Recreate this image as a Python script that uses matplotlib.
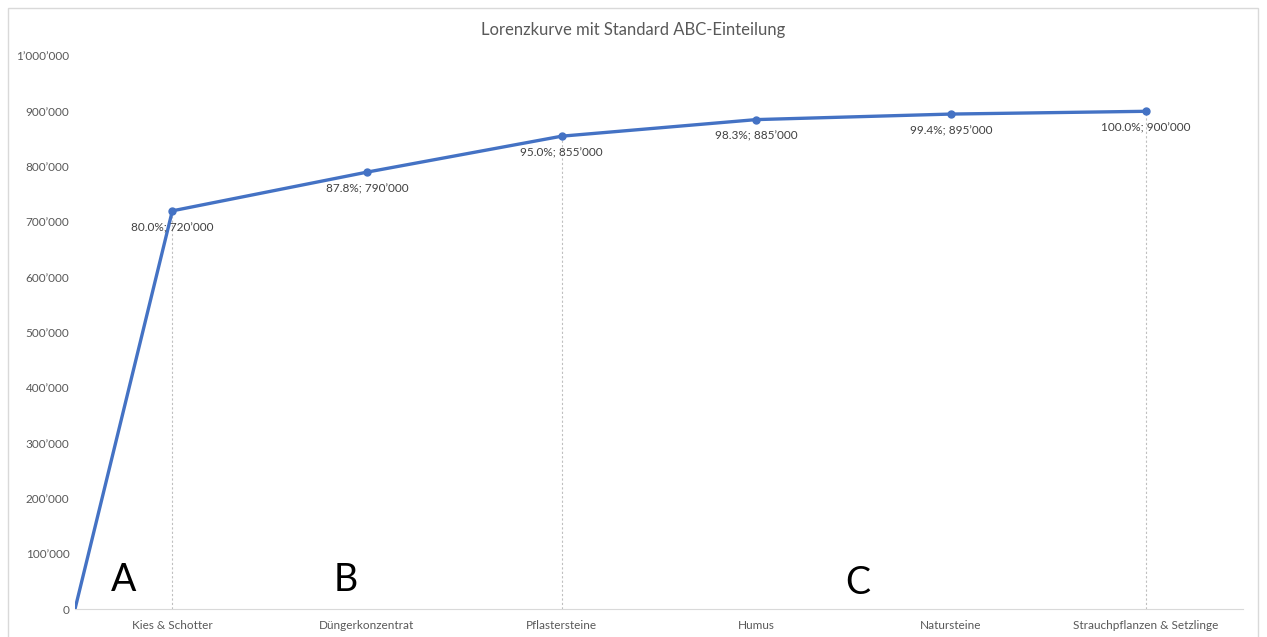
import matplotlib
matplotlib.use("Agg")
import matplotlib.pyplot as plt
from matplotlib.patches import Rectangle
from matplotlib.ticker import FuncFormatter

categories = ["Kies & Schotter", "Düngerkonzentrat", "Pflastersteine", "Humus",
              "Natursteine", "Strauchpflanzen & Setzlinge"]
cumulative = [720000, 790000, 855000, 885000, 895000, 900000]
percent = [80.0, 87.8, 95.0, 98.3, 99.4, 100.0]
drop_idx = [0, 2, 5]
zones = [("A", -0.25, 52000), ("B", 0.89, 52000), ("C", 3.52, 47000)]

plt.rcParams["font.family"] = ["Lato", "DejaVu Sans"]
grey = "#595959"
blue = "#4472C4"


def fmt(v, pos=None):
    return f"{int(v):,}".replace(",", "\u2019")


fig = plt.figure(figsize=(12.67, 6.37), dpi=100)
fig.patches.append(Rectangle((8 / 1267, -0.1), 1250 / 1267, 1.1 - 8 / 637,
                             transform=fig.transFigure, fill=False,
                             edgecolor="#D9D9D9", linewidth=1))
ax = fig.add_axes([75 / 1267, 1 - 609 / 637, (1243 - 75) / 1267, (609 - 56) / 637])

xs = [-0.5] + list(range(len(categories)))
ys = [0] + cumulative
ax.plot(xs, ys, color=blue, linewidth=2.4, zorder=3)
ax.plot(range(len(categories)), cumulative, "o", color=blue, markersize=5, zorder=4)

for i in drop_idx:
    ax.plot([i, i], [0, cumulative[i]], color="#BFBFBF", linewidth=0.8,
            linestyle=(0, (2, 2)), zorder=2)

for i, (p, v) in enumerate(zip(percent, cumulative)):
    ax.annotate(f"{p:.1f}%; {fmt(v)}", (i, v), xytext=(0, -8),
                textcoords="offset points", ha="center", va="top",
                fontsize=8.5, color="#404040", zorder=5)

for letter, x, y in zones:
    ax.text(x, y, letter, fontsize=27, color="black", ha="center", va="center")

ax.set_xlim(-0.5, len(categories) - 0.5)
ax.set_ylim(0, 1000000)
ax.set_xticks(range(len(categories)))
ax.set_xticklabels(categories, fontsize=8.5, color=grey)
ax.set_yticks(range(0, 1000001, 100000))
ax.yaxis.set_major_formatter(FuncFormatter(fmt))
ax.tick_params(axis="y", length=0, labelsize=8.5, labelcolor=grey, pad=4)
ax.tick_params(axis="x", length=0, pad=8)

for s in ["top", "right", "left"]:
    ax.spines[s].set_visible(False)
ax.spines["bottom"].set_color("#D9D9D9")
ax.patch.set_alpha(0)

fig.text(633 / 1267, 1 - 30 / 637, "Lorenzkurve mit Standard ABC-Einteilung",
         ha="center", va="center", fontsize=12, color=grey)

fig.savefig("out.png", dpi=100)
